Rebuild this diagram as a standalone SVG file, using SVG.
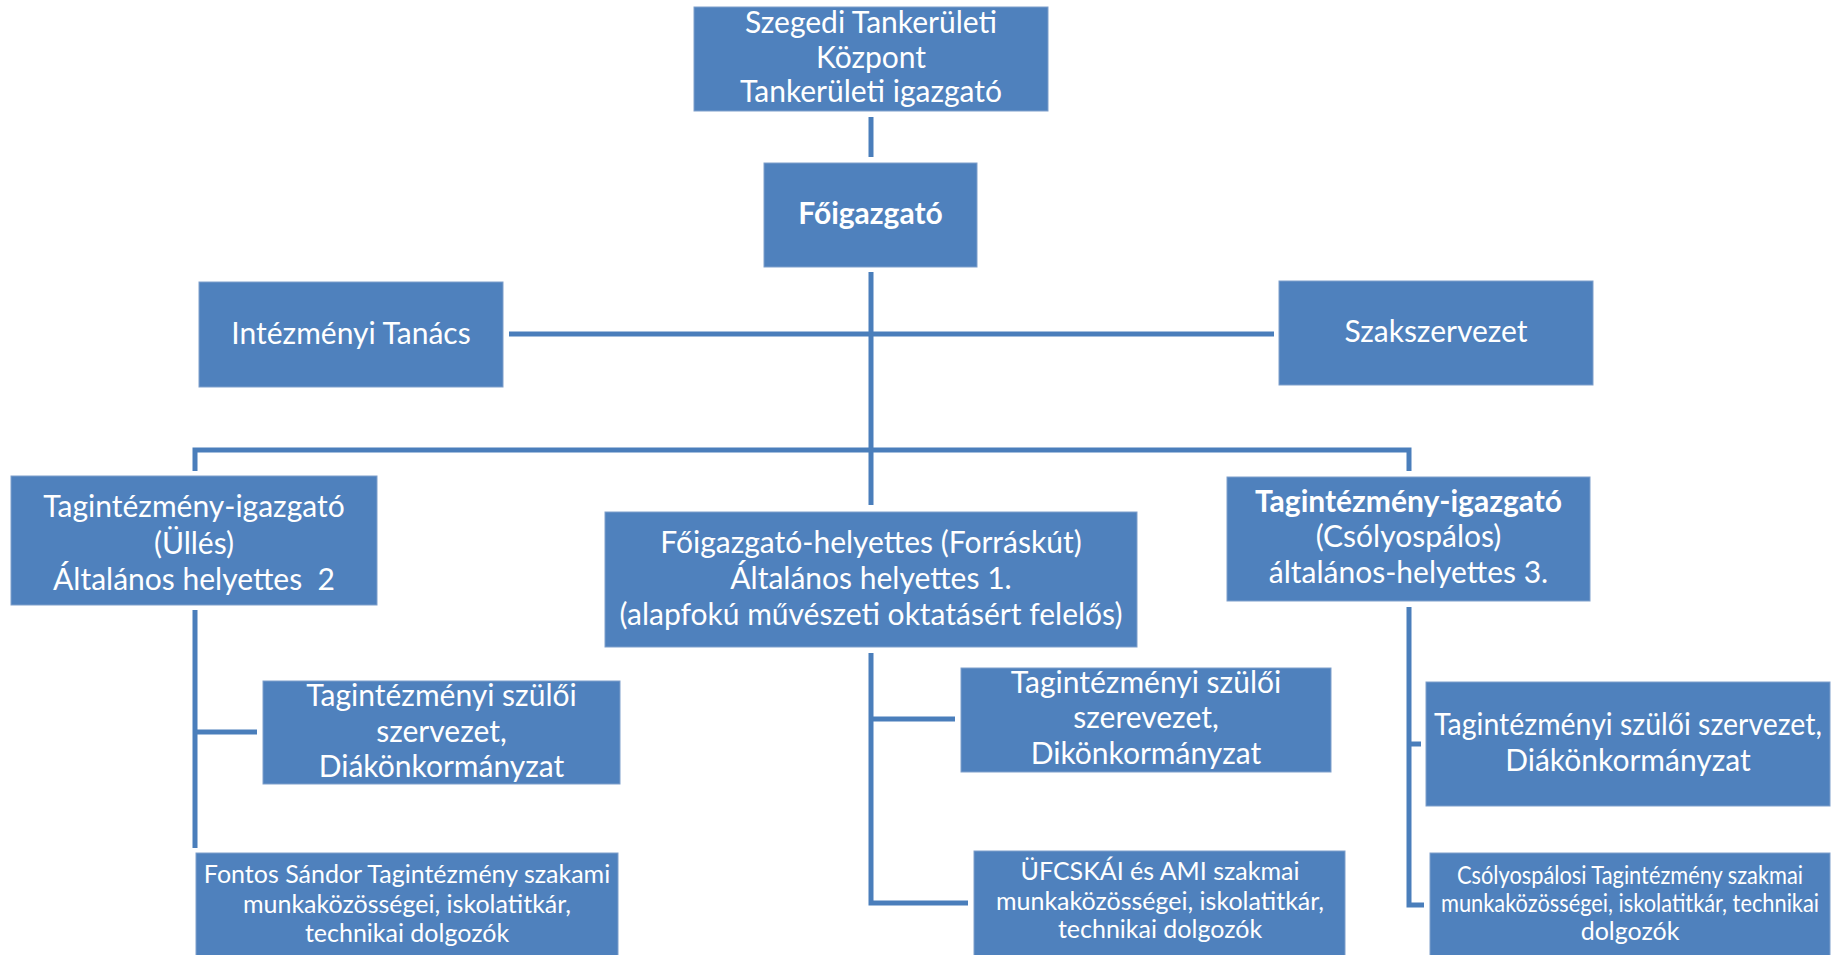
<svg xmlns="http://www.w3.org/2000/svg" width="1843" height="955" viewBox="0 0 1843 955">
<style>
.box{fill:#4F81BD;stroke:#7F9FCB;stroke-width:1}
.t{font-family:Lato,"Liberation Sans",sans-serif;font-size:30px;fill:#FFFFFF;text-anchor:middle}
.s{font-size:25px}
.b{font-weight:bold}
.c{fill:none;stroke:#4A7EBB;stroke-width:5;stroke-linejoin:miter}
</style>
<rect width="1843" height="955" fill="#FFFFFF"/>
<g id="connectors">
<path class="c" d="M871 117 V157"/>
<path class="c" d="M871 272 V505"/>
<path class="c" d="M509 334 H1274"/>
<path class="c" d="M195 471 V450 H1409 V471"/>
<path class="c" d="M195 610 V848"/>
<path class="c" d="M195 732 H257"/>
<path class="c" d="M871 653 V903 H968"/>
<path class="c" d="M871 719 H955"/>
<path class="c" d="M1409 607 V905 H1424"/>
<path class="c" d="M1409 744 H1421"/>
</g>
<g id="n-tankerulet">
<rect class="box" x="694" y="7" width="354" height="104"/>
<text class="t" x="871" y="33">Szegedi Tankerületi</text>
<text class="t" x="871" y="68">Központ</text>
<text class="t" x="871" y="102">Tankerületi igazgató</text>
</g>
<g id="n-foigazgato">
<rect class="box" x="764" y="163" width="213" height="104"/>
<text class="t b" x="870.5" y="224">Főigazgató</text>
</g>
<g id="n-intezmenyi-tanacs">
<rect class="box" x="199" y="282" width="304" height="105"/>
<text class="t" x="351" y="344">Intézményi Tanács</text>
</g>
<g id="n-szakszervezet">
<rect class="box" x="1279" y="281" width="314" height="104"/>
<text class="t" x="1436" y="342">Szakszervezet</text>
</g>
<g id="n-ulles">
<rect class="box" x="11" y="476" width="366" height="129"/>
<text class="t" x="194" y="517">Tagintézmény-igazgató</text>
<text class="t" x="194" y="554">(Üllés)</text>
<text class="t" x="194" y="590" xml:space="preserve">Általános helyettes  2</text>
</g>
<g id="n-foigazgato-helyettes">
<rect class="box" x="605" y="512" width="532" height="135"/>
<text class="t" x="871" y="553">Főigazgató-helyettes (Forráskút)</text>
<text class="t" x="871" y="589">Általános helyettes 1.</text>
<text class="t" x="871" y="625">(alapfokú művészeti oktatásért felelős)</text>
</g>
<g id="n-csolyospalos">
<rect class="box" x="1227" y="477" width="363" height="124"/>
<text class="t b" x="1408.5" y="512">Tagintézmény-igazgató</text>
<text class="t" x="1408.5" y="547">(Csólyospálos)</text>
<text class="t" x="1408.5" y="583">általános-helyettes 3.</text>
</g>
<g id="n-szuloi-ulles">
<rect class="box" x="263" y="681" width="357" height="103"/>
<text class="t" x="441.5" y="706">Tagintézményi szülői</text>
<text class="t" x="441.5" y="742">szervezet,</text>
<text class="t" x="441.5" y="777">Diákönkormányzat</text>
</g>
<g id="n-fontos-sandor">
<rect class="box" x="196" y="853" width="422" height="110"/>
<text class="t s" x="407" y="883">Fontos Sándor Tagintézmény szakami</text>
<text class="t s" x="407" y="913">munkaközösségei, iskolatitkár,</text>
<text class="t s" x="407" y="942">technikai dolgozók</text>
</g>
<g id="n-szuloi-forraskut">
<rect class="box" x="961" y="668" width="370" height="104"/>
<text class="t" x="1146" y="693">Tagintézményi szülői</text>
<text class="t" x="1146" y="728">szerevezet,</text>
<text class="t" x="1146" y="764">Dikönkormányzat</text>
</g>
<g id="n-ufcskai">
<rect class="box" x="974" y="851" width="371" height="112"/>
<text class="t s" x="1160" y="880">ÜFCSKÁI és AMI szakmai</text>
<text class="t s" x="1160" y="910">munkaközösségei, iskolatitkár,</text>
<text class="t s" x="1160" y="938">technikai dolgozók</text>
</g>
<g id="n-szuloi-csolyospalos">
<rect class="box" x="1426" y="682" width="404" height="124"/>
<text class="t" x="1628" y="735" textLength="388" lengthAdjust="spacingAndGlyphs">Tagintézményi szülői szervezet,</text>
<text class="t" x="1628" y="771">Diákönkormányzat</text>
</g>
<g id="n-csolyospalosi">
<rect class="box" x="1430" y="853" width="400" height="110"/>
<text class="t s" x="1630" y="884" textLength="346" lengthAdjust="spacingAndGlyphs">Csólyospálosi Tagintézmény szakmai</text>
<text class="t s" x="1630" y="912" textLength="378" lengthAdjust="spacingAndGlyphs">munkaközösségei, iskolatitkár, technikai</text>
<text class="t s" x="1630" y="940">dolgozók</text>
</g>
</svg>
